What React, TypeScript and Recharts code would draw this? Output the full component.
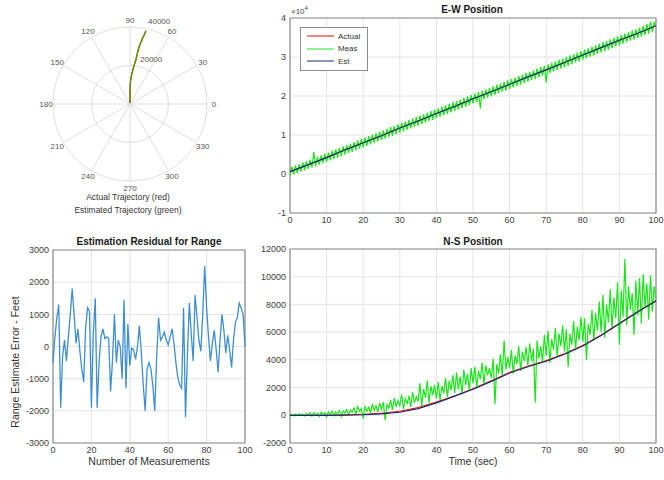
import React from 'react'
import {
  LineChart,
  Line,
  XAxis,
  YAxis,
  CartesianGrid,
  ReferenceArea,
  Legend,
  RadarChart,
  Radar,
  PolarGrid,
  PolarAngleAxis,
  PolarRadiusAxis,
} from 'recharts'

const FONT = '"Liberation Sans", Arial, Helvetica, sans-serif'

// residual samples, 1 per second
const seconds = [
  0, 1, 2, 3, 4, 5, 6, 7, 8, 9, 10, 11, 12, 13, 14, 15, 16, 17, 18, 19, 20,
  21, 22, 23, 24, 25, 26, 27, 28, 29, 30, 31, 32, 33, 34, 35, 36, 37, 38, 39, 40,
  41, 42, 43, 44, 45, 46, 47, 48, 49, 50, 51, 52, 53, 54, 55, 56, 57, 58, 59, 60,
  61, 62, 63, 64, 65, 66, 67, 68, 69, 70, 71, 72, 73, 74, 75, 76, 77, 78, 79, 80,
  81, 82, 83, 84, 85, 86, 87, 88, 89, 90, 91, 92, 93, 94, 95, 96, 97, 98, 99, 100,
]
// position measurements, every 0.5 s
const halfSeconds = [
  0, 0.5, 1, 1.5, 2, 2.5, 3, 3.5, 4, 4.5, 5, 5.5, 6, 6.5, 7, 7.5, 8, 8.5, 9, 9.5,
  10, 10.5, 11, 11.5, 12, 12.5, 13, 13.5, 14, 14.5, 15, 15.5, 16, 16.5, 17, 17.5, 18, 18.5, 19, 19.5,
  20, 20.5, 21, 21.5, 22, 22.5, 23, 23.5, 24, 24.5, 25, 25.5, 26, 26.5, 27, 27.5, 28, 28.5, 29, 29.5,
  30, 30.5, 31, 31.5, 32, 32.5, 33, 33.5, 34, 34.5, 35, 35.5, 36, 36.5, 37, 37.5, 38, 38.5, 39, 39.5,
  40, 40.5, 41, 41.5, 42, 42.5, 43, 43.5, 44, 44.5, 45, 45.5, 46, 46.5, 47, 47.5, 48, 48.5, 49, 49.5,
  50, 50.5, 51, 51.5, 52, 52.5, 53, 53.5, 54, 54.5, 55, 55.5, 56, 56.5, 57, 57.5, 58, 58.5, 59, 59.5,
  60, 60.5, 61, 61.5, 62, 62.5, 63, 63.5, 64, 64.5, 65, 65.5, 66, 66.5, 67, 67.5, 68, 68.5, 69, 69.5,
  70, 70.5, 71, 71.5, 72, 72.5, 73, 73.5, 74, 74.5, 75, 75.5, 76, 76.5, 77, 77.5, 78, 78.5, 79, 79.5,
  80, 80.5, 81, 81.5, 82, 82.5, 83, 83.5, 84, 84.5, 85, 85.5, 86, 86.5, 87, 87.5, 88, 88.5, 89, 89.5,
  90, 90.5, 91, 91.5, 92, 92.5, 93, 93.5, 94, 94.5, 95, 95.5, 96, 96.5, 97, 97.5, 98, 98.5, 99, 99.5,
  100,
]
// trajectory samples, 5 s steps
const coarseSeconds = [0, 5, 10, 15, 20, 25, 30, 35, 40, 45, 50, 55, 60, 65, 70, 75, 80, 85, 90, 95, 100]

const ewActual = [500, 2400, 4300, 6100, 8000, 9900, 11800, 13600, 15500, 17400, 19300, 21100, 23000, 24900, 26800, 28600, 30500, 32400, 34300, 36100, 38000]
const ewEst = [600, 2400, 4200, 6200, 8000, 9800, 11800, 13600, 15500, 17300, 19300, 21100, 23000, 24900, 26700, 28600, 30500, 32400, 34300, 36100, 38000]
const ewMeas = [
  -300, 1800, -100, 2200, 200, 2500, 600, 3000, 900, 3300,
  1300, 3700, 1700, 5600, 2000, 4400, 2400, 4800, 2800, 5200,
  3100, 5500, 3500, 5900, 3900, 6300, 4200, 6700, 4600, 7100,
  5000, 7400, 5400, 7800, 5700, 8200, 6100, 8600, 6500, 9000,
  6800, 9300, 7200, 9700, 7600, 10100, 8000, 10400, 8400, 10800,
  8700, 11200, 9100, 11600, 9500, 12000, 9800, 12300, 10200, 12700,
  10600, 13100, 11000, 13400, 11300, 13800, 11700, 14200, 12100, 14600,
  12400, 15000, 12800, 15300, 13200, 15700, 13600, 16100, 13900, 16500,
  14300, 16800, 14700, 17200, 15100, 17600, 15400, 18000, 15800, 18400,
  16200, 18700, 16500, 19100, 16900, 19500, 17300, 19900, 17700, 20200,
  18100, 20600, 18400, 21000, 16800, 21400, 19200, 21700, 19600, 22100,
  19900, 22500, 20300, 22900, 20700, 23200, 21100, 23600, 21400, 24000,
  21800, 24400, 22200, 24700, 22600, 25100, 22900, 25500, 23300, 25900,
  23700, 26200, 24100, 26600, 24400, 27000, 24800, 27400, 25200, 27700,
  23500, 28100, 25900, 28500, 26300, 28900, 26700, 29300, 27000, 29600,
  27400, 30000, 27800, 30400, 28200, 30700, 28600, 31100, 28900, 31500,
  29300, 31900, 29700, 32200, 30100, 32600, 30400, 33000, 30800, 33400,
  31200, 33800, 31500, 34100, 31900, 34500, 32300, 34900, 32700, 35300,
  33000, 35600, 33400, 36000, 33800, 36400, 34200, 36800, 34500, 37100,
  34900, 37500, 35300, 37900, 35700, 38500, 36000, 39100, 36400, 38900,
  38000,
]

const nsActual = [0, 0, 10, 30, 70, 150, 290, 560, 960, 1400, 1920, 2500, 3100, 3550, 3950, 4450, 5050, 5800, 6650, 7500, 8300]
const nsEst = [0, 0, 0, 10, 40, 100, 220, 480, 900, 1380, 1880, 2450, 3050, 3500, 3900, 4400, 5000, 5750, 6600, 7450, 8250]
const nsMeas = [
  0, 60, -40, 90, -20, 110, 10, 80, -60, 130,
  40, 170, -50, 200, 20, 150, -80, 230, 60, 180,
  -120, 260, 80, 310, -30, 240, 120, 350, -90, 330,
  150, 420, 60, 380, 230, 520, 90, 610, 270, 480,
  -250, 650, 300, 580, 180, 820, 350, 700, 240, 900,
  420, 950, -350, 780, 520, 1100, 380, 1250, 600, 1050,
  700, 1500, 450, 1200, 850, 1400, 600, 1700, 900, 1350,
  1000, 2300, 700, 1900, 1250, 2500, 900, 2100, 1450, 2200,
  1200, 2400, 1100, 2100, 1600, 2700, 1300, 2500, 1800, 2900,
  1600, 3100, 1900, 2800, 1500, 3300, 2200, 3000, 1800, 3400,
  2300, 3500, 2000, 3200, 2600, 3800, 2200, 3600, 2900, 3400,
  2700, 4100, 800, 3700, 3000, 4400, 2800, 5400, 3300, 4200,
  3400, 4700, 3000, 4300, 3700, 5000, 3200, 4600, 3900, 4900,
  3600, 5200, 3900, 4800, 900, 5400, 4100, 5000, 3800, 5800,
  4300, 6100, 3800, 5500, 4700, 6300, 4200, 5900, 5000, 6500,
  4600, 6200, 3500, 5900, 5100, 6800, 4700, 6400, 5400, 7100,
  5300, 7000, 4000, 6600, 5800, 7600, 5400, 7400, 6100, 8200,
  6000, 8700, 5600, 8000, 6700, 9100, 6200, 8500, 7000, 9600,
  5100, 9000, 7100, 11300, 6500, 9300, 7600, 8800, 5800, 9700,
  7200, 9900, 6600, 10200, 7800, 9500, 6900, 10100, 7500, 9300,
  8400,
]

const residual = [
  -500, 300, 900, 1300, -1900, -300, 200, -450, 300, 1000,
  1800, 1000, 100, 550, -150, -700, -1100, 600, 1200, 1100,
  -1900, 400, 1500, -1900, -500, 300, 550, 250, 300, 250,
  -1400, -400, 1000, -500, 200, 0, -1000, 1450, -1300, 700,
  -600, -50, -100, -400, 0, 650, -200, -1200, -2000, -700,
  -500, -700, -1200, -2000, -300, 900, 200, 300, 450, 200,
  50, 300, 550, 100, -500, -950, -1200, -1300, 1200, -2200,
  -300, 1350, 400, -450, 1600, 900, 200, -150, 1000, 2500,
  1200, 300, -450, 100, 500, -100, -800, 200, 1000, 500,
  -200, 350, -100, -650, 200, 750, 900, 1350, 1200, 1000,
  0,
]

const angleLabels = ['0', '30', '60', '90', '120', '150', '180', '210', '240', '270', '300', '330']
const gridAngles = [0, 30, 60, 90, 120, 150, 180, 210, 240, 270, 300, 330]
const timeTicks = [0, 10, 20, 30, 40, 50, 60, 70, 80, 90, 100]
const measTicks = [0, 20, 40, 60, 80, 100]
const ewTicks = [-10000, 0, 10000, 20000, 30000, 40000]
const nsTicks = [-2000, 0, 2000, 4000, 6000, 8000, 10000, 12000]
const resTicks = [-3000, -2000, -1000, 0, 1000, 2000, 3000]
const legendOrder = ['Actual', 'Meas', 'Est']

const coarseAt = (arr: number[], t: number) => (t % 5 === 0 ? arr[t / 5] : undefined)

const ewRows = halfSeconds.map((t, i) => ({ t, actual: coarseAt(ewActual, t), meas: ewMeas[i], est: coarseAt(ewEst, t) }))
const nsRows = halfSeconds.map((t, i) => ({ t, actual: coarseAt(nsActual, t), meas: nsMeas[i], est: coarseAt(nsEst, t) }))
const resRows = seconds.map((t, i) => ({ t, r: residual[i] }))
const polarRows = angleLabels.map((a) => ({ angle: a, zero: 0 }))
const trajActual = coarseSeconds.map((_, i) => ({ x: nsActual[i], y: ewActual[i] }))
const trajEst = coarseSeconds.map((_, i) => ({ x: nsEst[i], y: ewEst[i] }))

const tickStyle = { fontSize: 9, fill: '#404040', fontFamily: FONT }
const GRID = '#e4e4e4'
const BOX = '#8c8c8c'

const Text = ({ x, y, children, size = 10, bold = false, rotate = 0 }: any) => (
  <div
    style={{
      position: 'absolute',
      left: x,
      top: y,
      transform: `translate(-50%, -50%) rotate(${rotate}deg)`,
      whiteSpace: 'nowrap',
      fontFamily: FONT,
      fontSize: size,
      fontWeight: bold ? 700 : 400,
      color: bold ? '#1a1a1a' : '#333',
    }}
  >
    {children}
  </div>
)

const LegendBox = ({ payload }: any) => {
  const items = [...(payload || [])].sort((a: any, b: any) => legendOrder.indexOf(a.value) - legendOrder.indexOf(b.value))
  return (
    <div style={{ border: `1px solid ${BOX}`, background: '#fff', padding: '2px 4px 2px 6px', width: 68, boxSizing: 'border-box' }}>
      {items.map((p: any) => (
        <div key={p.value} style={{ display: 'flex', alignItems: 'center', height: 12.5, fontSize: 8, fontFamily: FONT, color: '#333' }}>
          <svg width={27} height={4}>
            <line x1={0} y1={2} x2={27} y2={2} stroke={p.color} strokeWidth={1} />
          </svg>
          <span style={{ marginLeft: 4 }}>{p.value}</span>
        </div>
      ))}
    </div>
  )
}

const PositionChart = ({ rows, top, height, marginTop, axisHeight, domain, ticks, fmt, legend }: any) => (
  <div style={{ position: 'absolute', left: 240, top }}>
    <LineChart width={424} height={height} data={rows} margin={{ top: marginTop, right: 8, left: 0, bottom: 0 }}>
      <CartesianGrid stroke={GRID} />
      <XAxis dataKey="t" type="number" domain={[0, 100]} ticks={timeTicks} height={axisHeight}
        tickLine={false} axisLine={false} tickSize={0} tickMargin={4} tick={tickStyle} interval={0} />
      <YAxis type="number" domain={domain} ticks={ticks} width={50} tickFormatter={fmt}
        tickLine={false} axisLine={false} tickSize={0} tickMargin={4} tick={tickStyle} interval={0} />
      <Line dataKey="actual" name="Actual" stroke="#ff0000" strokeWidth={1} dot={false} connectNulls isAnimationActive={false} />
      <Line dataKey="meas" name="Meas" stroke="#19e619" strokeWidth={1.2} dot={false} isAnimationActive={false} />
      <Line dataKey="est" name="Est" stroke="#1a2a70" strokeWidth={1.2} dot={false} connectNulls isAnimationActive={false} />
      <ReferenceArea x1={0} x2={100} y1={domain[0]} y2={domain[1]} fill="none" stroke={BOX} strokeWidth={1.2} />
      {legend && (
        <Legend layout="vertical" align="center" verticalAlign="middle" content={<LegendBox />}
          wrapperStyle={{ left: 60, top: 27, width: 68 }} />
      )}
    </LineChart>
  </div>
)

const AngleTick = ({ x, y, payload }: any) => (
  <text x={x} y={y} textAnchor="middle" dominantBaseline="central" fontSize={8} fill="#555" fontFamily={FONT}>
    {payload.value}
  </text>
)

const RadiusTick = ({ x, y, payload }: any) =>
  payload.value === 0 ? <g /> : (
    <text x={x + 2} y={y - 7} textAnchor="start" dominantBaseline="central" fontSize={8} fill="#555" fontFamily={FONT}>
      {payload.value}
    </text>
  )

export default function App() {
  return (
    <div style={{ position: 'absolute', left: 0, top: 0, width: 664, height: 480, background: '#fff', overflow: 'hidden' }}>
      {/* polar trajectory */}
      <div style={{ position: 'absolute', left: 30, top: 3.5 }}>
        <RadarChart width={200} height={200} data={polarRows}
          startAngle={30} endAngle={390} outerRadius={77} margin={{ top: 0, right: 0, bottom: 0, left: 0 }}>
          <PolarGrid gridType="circle" polarAngles={gridAngles} polarRadius={[38.5, 77]} stroke="#dedede" />
          <PolarAngleAxis dataKey="angle" tickSize={7} tickLine={false} axisLine={false} tick={<AngleTick />} />
          <PolarRadiusAxis angle={78} type="number" domain={[0, 40000]} tickCount={3}
            axisLine={false} tickLine={false} tick={<RadiusTick />} />
          <Radar dataKey="zero" stroke="none" fill="none" isAnimationActive={false} />
        </RadarChart>
      </div>
      <div style={{ position: 'absolute', left: 53, top: 26.5, pointerEvents: 'none' }}>
        <LineChart width={154} height={154} margin={{ top: 0, right: 0, bottom: 0, left: 0 }}>
          <XAxis dataKey="x" type="number" domain={[-40000, 40000]} allowDataOverflow hide />
          <YAxis dataKey="y" type="number" domain={[-40000, 40000]} allowDataOverflow hide />
          <Line data={trajActual} dataKey="y" stroke="#ff0000" strokeWidth={1.3} dot={false} isAnimationActive={false} />
          <Line data={trajEst} dataKey="y" stroke="#44aa00" strokeWidth={1.3} dot={false} isAnimationActive={false} />
        </LineChart>
      </div>
      <Text x={128} y={197} size={8.5}>Actual Trajectory (red)</Text>
      <Text x={128} y={210} size={8.5}>Estimated Trajectory (green)</Text>

      {/* E-W position */}
      <PositionChart rows={ewRows} top={0} height={240} marginTop={18} axisHeight={27}
        domain={[-10000, 40000]} ticks={ewTicks} fmt={(v: number) => String(v / 10000)} legend />
      <Text x={472} y={9} bold>E-W Position</Text>
      <div style={{ position: 'absolute', left: 291, top: 5, fontFamily: FONT, fontSize: 8, color: '#444' }}>
        ×10<sup style={{ fontSize: 6 }}>4</sup>
      </div>

      {/* N-S position */}
      <PositionChart rows={nsRows} top={230} height={250} marginTop={19} axisHeight={37}
        domain={[-2000, 12000]} ticks={nsTicks} fmt={(v: number) => String(v)} />
      <Text x={473} y={241} bold>N-S Position</Text>
      <Text x={473} y={461} size={10.5}>Time (sec)</Text>

      {/* range residual */}
      <div style={{ position: 'absolute', left: 0, top: 230 }}>
        <LineChart width={260} height={250} data={resRows} margin={{ top: 20, right: 15, left: 0, bottom: 0 }}>
          <CartesianGrid stroke={GRID} />
          <XAxis dataKey="t" type="number" domain={[0, 100]} ticks={measTicks} height={37}
            tickLine={false} axisLine={false} tickSize={0} tickMargin={4} tick={tickStyle} interval={0} />
          <YAxis type="number" domain={[-3000, 3000]} ticks={resTicks} width={53}
            tickLine={false} axisLine={false} tickSize={0} tickMargin={4} tick={tickStyle} interval={0} />
          <Line dataKey="r" stroke="#3f8fcf" strokeWidth={1.3} dot={false} isAnimationActive={false} />
          <ReferenceArea x1={0} x2={100} y1={-3000} y2={3000} fill="none" stroke={BOX} strokeWidth={1.2} />
        </LineChart>
      </div>
      <Text x={149} y={241} bold>Estimation Residual for Range</Text>
      <Text x={149} y={461} size={10.5}>Number of Measurements</Text>
      <Text x={15} y={362} size={10.5} rotate={-90}>Range Estimate Error - Feet</Text>
    </div>
  )
}
